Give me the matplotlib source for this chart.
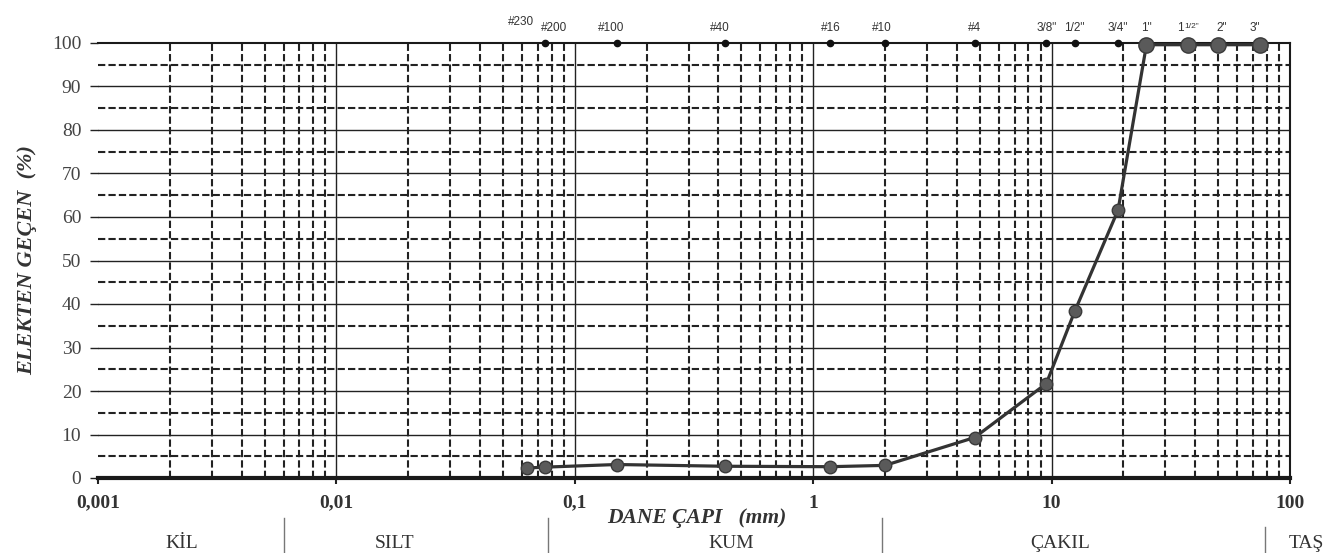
import matplotlib
matplotlib.use("Agg")
import matplotlib.pyplot as plt
import numpy as np

# sieve sizes (mm) and percent passing
sieve_labels = ['#230', '#200', '#100', '#40', '#16', '#10', '#4',
                '3/8"', '1/2"', '3/4"', '1"', '1 1/2"', '2"', '3"']
sieve_mm = [0.063, 0.075, 0.15, 0.425, 1.18, 2.0, 4.75,
            9.5, 12.5, 19.0, 25.0, 37.5, 50.0, 75.0]
passing = [2.3, 2.5, 3.1, 2.7, 2.6, 2.9, 9.3,
           21.7, 38.3, 61.6, 99.6, 99.6, 99.6, 99.6]

# sieves marked with a small dot on the top line
marked = ['#200', '#100', '#40', '#16', '#10', '#4', '3/8"', '1/2"', '3/4"']

x_ticks = [0.001, 0.01, 0.1, 1, 10, 100]
x_tick_labels = ['0,001', '0,01', '0,1', '1', '10', '100']
y_ticks = list(range(0, 101, 10))

soil_classes = ['KİL', 'SILT', 'KUM', 'ÇAKIL', 'TAŞ']

W, H = 1335, 553
fig = plt.figure(figsize=(W / 100, H / 100), dpi=100)
ax = fig.add_axes([98 / W, 1 - 478 / H, (1290 - 98) / W, (478 - 43) / H])

ax.set_xscale('log')
ax.set_xlim(0.001, 100)
ax.set_ylim(0, 100)

gc = '#222222'
dash = (0, (3.5, 1.5))

# horizontal grid
for y in range(10, 100, 10):
    ax.axhline(y, color=gc, lw=1.0, zorder=1)
for y in range(5, 100, 10):
    ax.axhline(y, color=gc, lw=1.5, ls=dash, zorder=1)

# vertical grid
for dec in [0.001, 0.01, 0.1, 1, 10]:
    if dec > 0.001:
        ax.axvline(dec, color=gc, lw=1.0, zorder=1)
    for m in range(2, 10):
        ax.axvline(dec * m, color=gc, lw=1.5, ls=dash, zorder=1)

# gradation curve
ax.plot(sieve_mm, passing, '-', color='#333333', lw=2.3, zorder=4,
        marker='o', ms=9, mfc='#5a5a5a', mec='#3a3a3a', mew=1)
ax.plot(sieve_mm[-4:], passing[-4:], 'o', ms=11, mfc='#5a5a5a',
        mec='#3a3a3a', mew=1, zorder=5, clip_on=False)

# small dots + sieve names along the top
mk_x = [s for s, l in zip(sieve_mm, sieve_labels) if l in marked]
ax.plot(mk_x, [100] * len(mk_x), 'o', color='#111111', ms=4.5,
        zorder=5, clip_on=False)

dx = [-6, 9, -6, -5, 0, -3, 0, 0, 0, 0, 0, 0, 4, -5]
for s, l, d in zip(sieve_mm, sieve_labels, dx):
    dy = 15 if l != '#230' else 21
    if l == '1 1/2"':
        ax.annotate('1', (s, 100), xytext=(-8, dy), textcoords='offset pixels',
                    ha='center', va='center', fontsize=8.5, color='#333333',
                    family='Liberation Sans')
        ax.annotate('1/2"', (s, 100), xytext=(3, dy + 2), textcoords='offset pixels',
                    ha='center', va='center', fontsize=6, color='#333333',
                    family='Liberation Sans')
        continue
    ax.annotate(l, (s, 100), xytext=(d, dy), textcoords='offset pixels',
                ha='center', va='center', fontsize=8.5, color='#333333',
                family='Liberation Sans')

# spines
ax.spines['left'].set_visible(False)
ax.spines['bottom'].set_linewidth(3)
ax.spines['top'].set_linewidth(1.5)
ax.spines['right'].set_linewidth(1.5)
for sp in ax.spines.values():
    sp.set_color('#1a1a1a')

ax.set_xticks(x_ticks)
ax.set_xticklabels(x_tick_labels, family='Liberation Serif', fontweight='bold',
                   fontsize=14, color='#333333')
ax.xaxis.set_minor_locator(matplotlib.ticker.NullLocator())
ax.tick_params(axis='x', length=4, width=1.5, color=gc, pad=8)

ax.set_yticks(y_ticks)
ax.set_yticklabels([str(v) for v in y_ticks], family='Liberation Serif',
                   fontsize=14, color='#444444')
ax.tick_params(axis='y', length=6, width=1.0, color=gc, pad=6)

ax.set_ylabel('ELEKTEN GEÇEN  (%)', family='Liberation Serif', fontweight='bold',
              fontstyle='italic', fontsize=16, color='#333333', va='center')
ax.yaxis.set_label_coords((27 - 98) / 1192, 0.5)

ax.set_xlabel('DANE ÇAPI   (mm)', family='Liberation Serif', fontweight='bold',
              fontstyle='italic', fontsize=15.5, color='#333333', va='center')
ax.xaxis.set_label_coords((697 - 98) / 1192, (478 - 518) / 435)

# soil class band under the axis
class_x = [182, 395, 731, 1060, 1306]
for name, px in zip(soil_classes, class_x):
    fig.text(px / W, 1 - 543 / H, name, ha='center', va='center',
             family='Liberation Serif', fontsize=14, color='#333333')
for px, top in [(284, 518), (548, 518), (882, 518), (1265, 527)]:
    fig.add_artist(plt.Line2D([px / W, px / W], [1 - top / H, 0],
                              color='#777777', lw=1.0))

fig.savefig('out.png', dpi=100, facecolor='white')
